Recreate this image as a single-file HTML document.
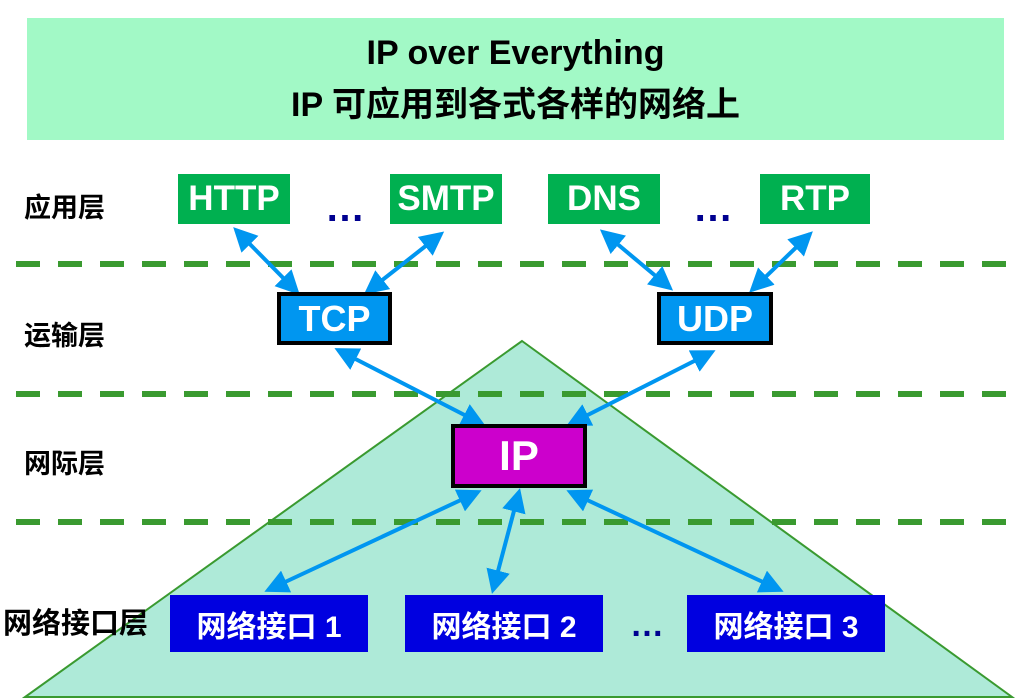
<!DOCTYPE html>
<html><head><meta charset="utf-8"><style>
body{margin:0;width:1028px;height:700px;background:#fff;overflow:hidden;position:relative;font-family:"Liberation Sans","Noto Sans CJK SC",sans-serif;}
.a{position:absolute;display:flex;align-items:center;justify-content:center;font-weight:bold;color:#fff;box-sizing:border-box}
.g{background:#00b050;font-size:35px;height:50px;top:174px}
.lbl{position:absolute;font-weight:bold;font-size:27px;color:#000}
.n{background:#0000e0;font-size:30px;height:57px;top:595px;width:198px}
</style></head><body>
<svg width="1028" height="700" style="position:absolute;left:0;top:0">
<defs><marker id="m" markerWidth="6" markerHeight="6" refX="5" refY="3" orient="auto-start-reverse" markerUnits="strokeWidth"><path d="M0,0 L6,3 L0,6 z" fill="#0096f0"/></marker></defs>
<polygon points="522,341 1012,697 25,697" fill="#aeead8" stroke="#3a9a30" stroke-width="2"/>
<g stroke="#3a9a30" stroke-width="6" stroke-dasharray="24 18">
<line x1="16" y1="264" x2="1010" y2="264"/><line x1="16" y1="394" x2="1010" y2="394"/><line x1="16" y1="522" x2="1010" y2="522"/></g>
<g stroke="#0096f0" stroke-width="4" marker-start="url(#m)" marker-end="url(#m)">
<line x1="236" y1="230" x2="297" y2="292"/><line x1="441" y1="234" x2="367" y2="292"/>
<line x1="338" y1="350" x2="482" y2="424"/><line x1="603" y1="232" x2="670" y2="288"/>
<line x1="810" y1="234" x2="752" y2="290"/><line x1="712" y1="352" x2="570" y2="424"/>
<line x1="478" y1="492" x2="268" y2="590"/><line x1="519" y1="492" x2="493" y2="590"/>
<line x1="570" y1="492" x2="780" y2="590"/></g>
</svg>
<div class="a" style="left:27px;top:18px;width:977px;height:122px;background:#a2f9c6;color:#000;font-size:34px;flex-direction:column;line-height:52px;text-align:center"><div>IP over Everything</div><div>IP 可应用到各式各样的网络上</div></div>
<div class="lbl" style="left:24px;top:186px">应用层</div>
<div class="lbl" style="left:24px;top:314px">运输层</div>
<div class="lbl" style="left:24px;top:442px">网际层</div>
<div class="lbl" style="left:3px;top:600px;font-size:29px">网络接口层</div>
<div class="a g" style="left:178px;width:112px">HTTP</div>
<div class="a g" style="left:390px;width:112px">SMTP</div>
<div class="a g" style="left:548px;width:112px">DNS</div>
<div class="a g" style="left:760px;width:110px">RTP</div>
<div class="a" style="left:325px;top:186px;color:#000090;font-size:40px">…</div>
<div class="a" style="left:693px;top:186px;color:#000090;font-size:40px">…</div>
<div class="a" style="left:630px;top:606px;color:#000090;font-size:34px">…</div>
<div class="a" style="left:277px;top:292px;width:115px;height:53px;background:#0096f0;border:4px solid #000;font-size:36px">TCP</div>
<div class="a" style="left:657px;top:292px;width:116px;height:53px;background:#0096f0;border:4px solid #000;font-size:36px">UDP</div>
<div class="a" style="left:451px;top:424px;width:136px;height:64px;background:#cc00cc;border:4px solid #000;font-size:42px">IP</div>
<div class="a n" style="left:170px">网络接口 1</div>
<div class="a n" style="left:405px">网络接口 2</div>
<div class="a n" style="left:687px">网络接口 3</div>
</body></html>
